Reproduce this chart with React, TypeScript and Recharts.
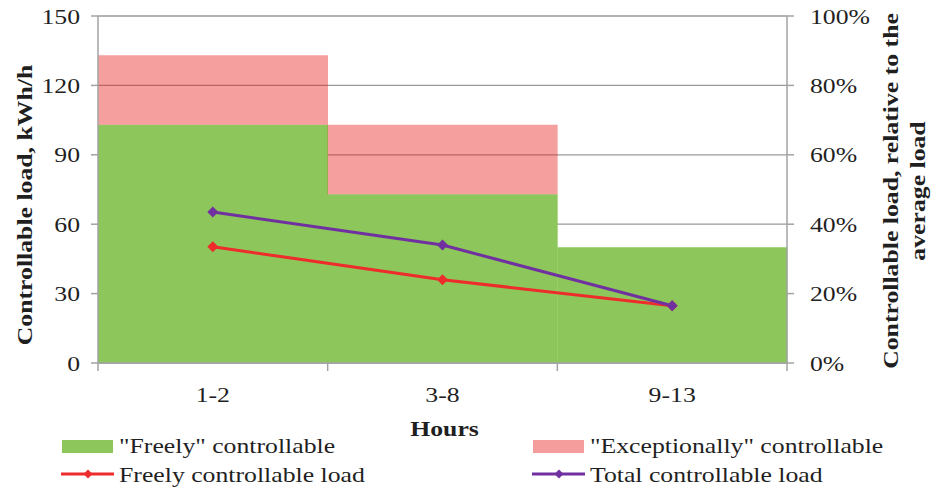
import React from 'react';
import {
  ComposedChart, Bar, Line, XAxis, YAxis, CartesianGrid, Legend, Label
} from 'recharts';

const HOURS = ['1-2', '3-8', '9-13'];
const FREELY_KWH = [103, 73, 50];
const EXCEPTIONAL_KWH = [30, 30, 0];
const FREELY_LOAD_PCT = [33.5, 24, 16.5];
const TOTAL_LOAD_PCT = [43.5, 34, 16.5];
const LEFT_TICKS = [0, 30, 60, 90, 120, 150];
const RIGHT_TICKS = [0, 20, 40, 60, 80, 100];

const data = HOURS.map((h, i) => ({
  hours: h,
  freely: FREELY_KWH[i],
  exceptional: EXCEPTIONAL_KWH[i],
  freelyPct: FREELY_LOAD_PCT[i],
  totalPct: TOTAL_LOAD_PCT[i],
}));

const W = 938;
const H = 488;
const LEFT_W = 98;
const RIGHT_W = 151;
const PLOT_W = W - LEFT_W - RIGHT_W;

const FONT = 'Liberation Serif, Tinos, Times New Roman, Times, serif';
const SX = 1.17; // the original text is a bit wide
const INK = '#1f1f1f';
const AXIS = '#a3a3a3';
const GREEN = '#8dc65a';
const PINK = '#f59d9d';
const RED = '#ee2c2c';
const PURPLE = '#7030a0';

const SText = ({ x, y, anchor = 'start', size = 22, bold = false, rotate = false, children }: any) => (
  <text
    transform={`translate(${x},${y})${rotate ? ' rotate(-90)' : ''} scale(${SX},1)`}
    textAnchor={anchor}
    style={{ fontFamily: FONT, fontSize: size, fontWeight: bold ? 700 : 400 }}
    fill={INK}
  >
    {children}
  </text>
);

const diamond = (cx: number, cy: number, r: number) =>
  `M${cx},${cy - r} L${cx + r},${cy} L${cx},${cy + r} L${cx - r},${cy} Z`;

const Dot = (color: string) => (props: any) => {
  const { cx, cy, index } = props;
  if (cx == null || cy == null) return null;
  return <path key={`d-${index}`} d={diamond(cx, cy, 5.5)} fill={color} />;
};

const XTick = (props: any) => {
  const { x, y, payload, index } = props;
  const half = payload && payload.offset ? payload.offset : PLOT_W / HOURS.length / 2;
  return (
    <g>
      <line x1={x - half} x2={x - half} y1={y} y2={y + 8} stroke={AXIS} strokeWidth={1.5} />
      {index === HOURS.length - 1 && (
        <line x1={x + half} x2={x + half} y1={y} y2={y + 8} stroke={AXIS} strokeWidth={1.5} />
      )}
      <SText x={x} y={y + 39} anchor="middle">{payload.value}</SText>
    </g>
  );
};

const LeftTick = (props: any) => (
  <SText x={props.x} y={props.y + 7.5} anchor="end">{props.payload.value}</SText>
);

const RightTick = (props: any) => (
  <SText x={props.x} y={props.y + 7.5} anchor="start">{`${props.payload.value}%`}</SText>
);

const LegendBox = () => (
  <svg width={W} height={52} style={{ display: 'block', overflow: 'visible' }}>
    <rect x={62} y={4} width={51} height={13} fill={GREEN} />
    <SText x={119} y={17}>"Freely" controllable</SText>
    <line x1={61} x2={114} y1={38} y2={38} stroke={RED} strokeWidth={3} />
    <path d={diamond(88, 38, 4.5)} fill={RED} />
    <SText x={119} y={46}>Freely controllable load</SText>

    <rect x={533} y={4} width={51} height={13} fill={PINK} />
    <SText x={590} y={17}>"Exceptionally" controllable</SText>
    <line x1={532} x2={585} y1={38} y2={38} stroke={PURPLE} strokeWidth={3} />
    <path d={diamond(559, 38, 4.5)} fill={PURPLE} />
    <SText x={590} y={46}>Total controllable load</SText>
  </svg>
);

export default function App() {
  return (
    <div style={{ position: 'absolute', left: 0, top: 0, width: W, height: H, background: '#fff' }}>
      <ComposedChart
        width={W}
        height={H}
        data={data}
        margin={{ top: 16, right: 0, bottom: 0, left: 0 }}
        barCategoryGap={0}
        barGap={0}
      >
        <CartesianGrid vertical={false} stroke="#9a9a9a" strokeWidth={1.3} yAxisId="kwh" />
        <XAxis
          dataKey="hours"
          height={73}
          stroke={AXIS}
          strokeWidth={1.5}
          tickLine={false}
          tickSize={0}
          tickMargin={0}
          tick={(p: any) => <XTick {...p} />}
        >
          <Label
            content={(p: any) => {
              const vb = p.viewBox || { x: LEFT_W, y: 363, width: PLOT_W, height: 73 };
              return (
                <SText x={vb.x + vb.width / 2 + 2} y={vb.y + vb.height} anchor="middle" bold>
                  Hours
                </SText>
              );
            }}
          />
        </XAxis>
        <YAxis
          yAxisId="kwh"
          width={LEFT_W}
          domain={[0, 150]}
          ticks={LEFT_TICKS}
          stroke={AXIS}
          strokeWidth={1.5}
          tickSize={7}
          tickMargin={11}
          tick={(p: any) => <LeftTick {...p} />}
        >
          <Label
            content={(p: any) => {
              const vb = p.viewBox || { x: 0 };
              return (
                <SText x={vb.x + 32} y={205} anchor="middle" bold rotate>
                  Controllable load, kWh/h
                </SText>
              );
            }}
          />
        </YAxis>
        <YAxis
          yAxisId="pct"
          orientation="right"
          width={RIGHT_W}
          domain={[0, 100]}
          ticks={RIGHT_TICKS}
          stroke={AXIS}
          strokeWidth={1.5}
          tickSize={7}
          tickMargin={16}
          tick={(p: any) => <RightTick {...p} />}
        >
          <Label
            content={(p: any) => {
              const vb = p.viewBox || { x: W - RIGHT_W };
              return (
                <g>
                  <SText x={vb.x + 111} y={191} anchor="middle" bold rotate>
                    Controllable load, relative to the
                  </SText>
                  <SText x={vb.x + 138} y={191} anchor="middle" bold rotate>
                    average load
                  </SText>
                </g>
              );
            }}
          />
        </YAxis>
        <Bar yAxisId="kwh" dataKey="freely" stackId="a" fill={GREEN} isAnimationActive={false} />
        <Bar
          yAxisId="kwh"
          dataKey="exceptional"
          stackId="a"
          fill="#e81a1a"
          fillOpacity={0.42}
          isAnimationActive={false}
        />
        <Line
          yAxisId="pct"
          dataKey="freelyPct"
          stroke={RED}
          strokeWidth={3}
          dot={Dot(RED)}
          activeDot={false}
          isAnimationActive={false}
        />
        <Line
          yAxisId="pct"
          dataKey="totalPct"
          stroke={PURPLE}
          strokeWidth={3}
          dot={Dot(PURPLE)}
          activeDot={false}
          isAnimationActive={false}
        />
        <Legend
          verticalAlign="bottom"
          height={52}
          width={W}
          wrapperStyle={{ left: 0, bottom: 0 }}
          content={() => <LegendBox />}
        />
      </ComposedChart>
    </div>
  );
}
